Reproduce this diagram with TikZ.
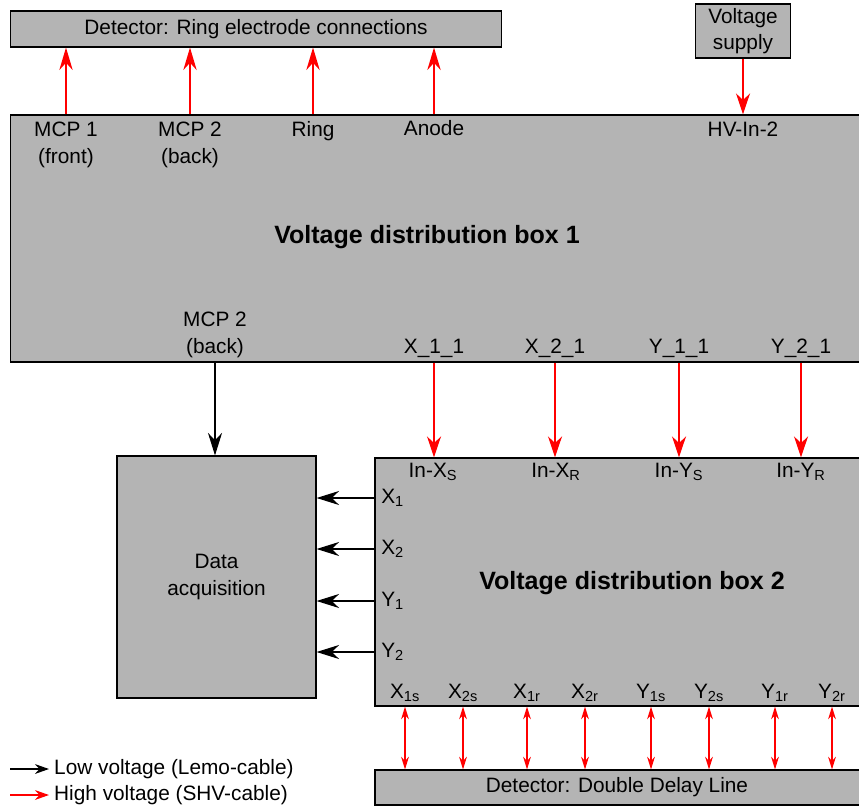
\documentclass[tikz,border=0pt]{standalone}
\usepackage{fontspec}
\setmainfont{Liberation Sans}
\usetikzlibrary{arrows.meta}
\definecolor{boxgray}{RGB}{180,180,180}

\tikzset{
  box/.style={draw, fill=boxgray, line width=0.8pt, inner sep=0pt, align=center},
  lbl/.style={inner sep=0pt, align=center},
  hv/.style={red, line width=1.3pt, -{Stealth[length=16pt,width=9.5pt]}},
  hvs/.style={red, line width=1pt, -{Stealth[length=15pt,width=10pt]}},
  lv/.style={black, line width=0.8pt, -{Stealth[length=16pt,width=10pt]}},
  dd/.style={red, line width=0.9pt, {Stealth[length=9pt,width=5.5pt]}-{Stealth[length=9pt,width=5.5pt]}},
}

\begin{document}
\begin{tikzpicture}[x=0.025cm, y=-0.025cm, font=\fontsize{14.8}{19}\selectfont]
    \useasboundingbox (0,0) rectangle (859,808);

    % boxes
    \node[box, minimum width=12.25cm, minimum height=0.9cm] (det) at (256,29) {Detector: Ring electrode connections};
    \node[box, minimum width=2.375cm, minimum height=1.35cm, font=\fontsize{14.8}{18.5}\selectfont] (vs) at (743,31) {Voltage\\supply};
    \node[box, minimum width=21.2cm, minimum height=6.175cm] (b1) at (435,238.5) {};
    \node[box, minimum width=4.975cm, minimum height=6.05cm] (daq) at (216.5,577) {Data\\acquisition};
    \node[box, minimum width=12.1cm, minimum height=6.2cm] (b2) at (617,582) {};
    \node[box, minimum width=12.1cm, minimum height=0.875cm] (ddl) at (617,787.5) {Detector: Double Delay Line};

    % labels in box 1
    \node[lbl] (mcp1t) at (66,145) {MCP 1\\(front)};
    \node[lbl] (mcp2t) at (190,145) {MCP 2\\(back)};
    \node[lbl] (ring) at (313,131) {Ring};
    \node[lbl] (anode) at (434,128) {Anode};
    \node[lbl] (hvin) at (743,129) {HV-In-2};
    \node[lbl, font=\fontsize{17.8}{21}\bfseries] (title1) at (427,237) {Voltage distribution box 1};
    \node[lbl] (mcp2b) at (215,335) {MCP 2\\(back)};
    \node[lbl] (x11) at (434,348) {X\_1\_1};
    \node[lbl] (x21) at (555,348) {X\_2\_1};
    \node[lbl] (y11) at (679,348) {Y\_1\_1};
    \node[lbl] (y21) at (801,348) {Y\_2\_1};

    % labels in box 2
    \node[lbl] (inxs) at (433,472) {In-X\textsubscript{S}};
    \node[lbl] (inxr) at (556,472) {In-X\textsubscript{R}};
    \node[lbl] (inys) at (679,472) {In-Y\textsubscript{S}};
    \node[lbl] (inyr) at (801,472) {In-Y\textsubscript{R}};
    \node[lbl, anchor=west] (x1) at (381,498) {X\textsubscript{1}};
    \node[lbl, anchor=west] (x2) at (381,549) {X\textsubscript{2}};
    \node[lbl, anchor=west] (y1) at (381,601) {Y\textsubscript{1}};
    \node[lbl, anchor=west] (y2) at (381,652) {Y\textsubscript{2}};
    \node[lbl, font=\fontsize{17.8}{21}\bfseries] (title2) at (632,583) {Voltage distribution box 2};
    \node[lbl] (x1s) at (405,693) {X\textsubscript{1s}};
    \node[lbl] (x2s) at (463,693) {X\textsubscript{2s}};
    \node[lbl] (x1r) at (527,693) {X\textsubscript{1r}};
    \node[lbl] (x2r) at (585,693) {X\textsubscript{2r}};
    \node[lbl] (y1s) at (651,693) {Y\textsubscript{1s}};
    \node[lbl] (y2s) at (709,693) {Y\textsubscript{2s}};
    \node[lbl] (y1r) at (775,693) {Y\textsubscript{1r}};
    \node[lbl] (y2r) at (832,693) {Y\textsubscript{2r}};

    % connections
    \draw[hv] (mcp1t |- b1.north) -- (mcp1t |- det.south);
    \draw[hv] (mcp2t |- b1.north) -- (mcp2t |- det.south);
    \draw[hv] (ring |- b1.north) -- (ring |- det.south);
    \draw[hv] (anode |- b1.north) -- (anode |- det.south);
    \draw[hvs] (vs.south) -- (vs.south |- b1.north);
    \draw[lv] (mcp2b |- b1.south) -- (mcp2b |- daq.north);
    \draw[hvs] (x11 |- b1.south) -- (x11 |- b2.north);
    \draw[hvs] (x21 |- b1.south) -- (x21 |- b2.north);
    \draw[hvs] (y11 |- b1.south) -- (y11 |- b2.north);
    \draw[hvs] (y21 |- b1.south) -- (y21 |- b2.north);
    \foreach \p in {x1,x2,y1,y2}
        \draw[lv] (b2.west |- \p) -- (daq.east |- \p);
    \foreach \p in {x1s,x2s,x1r,x2r,y1s,y2s,y1r,y2r}
        \draw[dd] (\p |- b2.south) -- (\p |- ddl.north);

    % legend
    \coordinate (lga) at (10,769);
    \coordinate (lgb) at (10,795);
    \node[anchor=west, inner sep=3.5pt] (lowtxt) at (49,769) {Low voltage (Lemo-cable)};
    \node[anchor=west, inner sep=3.5pt] (hightxt) at (49,795) {High voltage (SHV-cable)};
    \draw[black, line width=1pt, -{Stealth[length=10pt,width=7pt]}] (lga) -- (lowtxt.west);
    \draw[red, line width=1pt, -{Stealth[length=10pt,width=7pt]}] (lgb) -- (hightxt.west);
\end{tikzpicture}
\end{document}
